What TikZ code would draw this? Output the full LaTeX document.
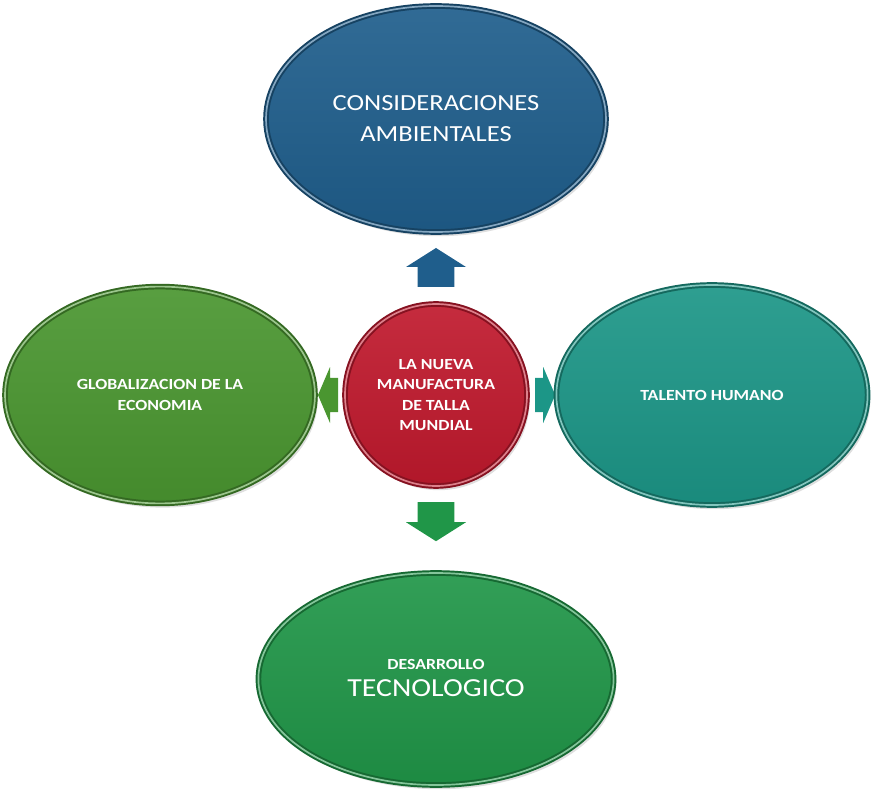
\documentclass[tikz,border=0pt]{standalone}
\usepackage{fontspec}
\setmainfont{Carlito}[FakeStretch=1.15]
\usetikzlibrary{positioning,shapes.geometric,shadows}

\definecolor{azul}{RGB}{31,94,140}
\definecolor{rojo}{RGB}{192,25,45}
\definecolor{verdeA}{RGB}{74,150,48}
\definecolor{verdeB}{RGB}{32,150,72}
\definecolor{turquesa}{RGB}{28,150,135}

\tikzset{
  % block arrows, pointing up, base at the origin
  bloque/.pic={\fill (-0.46,0) -- (-0.46,0.5) -- (-0.75,0.5) -- (0,0.975)
    -- (0.75,0.5) -- (0.46,0.5) -- (0.46,0) -- cycle;},
  bloquito/.pic={\fill (-0.43,0) -- (-0.43,0.2) -- (-0.7,0.2) -- (0,0.5)
    -- (0.7,0.2) -- (0.43,0.2) -- (0.43,0) -- cycle;}
}

\begin{document}
\begin{tikzpicture}[node distance=6.9cm,
  tema/.style={ellipse,draw=#1!70!black,double=#1!55!white,
    double distance=1.2pt,line width=1.4pt,top color=#1!92!white,
    bottom color=#1!92!black,text=white,align=center,
    drop shadow={opacity=0.25,shadow xshift=2pt,shadow yshift=-3pt}},
  chica/.style={font=\bfseries\fontsize{11}{14.6}\selectfont}]

  \useasboundingbox (-10.9,9.875) rectangle (10.875,-9.9);

  % centre
  \node[tema=rojo,circle,minimum size=4.55cm,chica] (nueva)
    {LA NUEVA\\MANUFACTURA\\DE TALLA\\MUNDIAL};

  % where the block arrows start
  \coordinate[above of=nueva,node distance=2.7cm] (baseArriba);
  \coordinate[below of=nueva,node distance=2.68cm] (baseAbajo);
  \coordinate[right of=nueva,node distance=2.48cm] (baseDer);
  \coordinate[left of=nueva,node distance=2.45cm] (baseIzq);

  \pic[azul] at (baseArriba) {bloque};
  \pic[verdeB,rotate=180] at (baseAbajo) {bloque};
  \pic[turquesa,rotate=-90] at (baseDer) {bloquito};
  \pic[verdeA,rotate=90] at (baseIzq) {bloquito};

  % the four themes
  \node[tema=azul,minimum width=8.5cm,minimum height=5.65cm,
    font=\fontsize{16.4}{22}\selectfont] (ambiental) [above of=nueva]
    {CONSIDERACIONES\\AMBIENTALES};
  \node[tema=verdeA,minimum width=7.75cm,minimum height=5.42cm,chica]
    (global) [left of=nueva] {GLOBALIZACION DE LA\\ECONOMIA};
  \node[tema=turquesa,minimum width=7.78cm,minimum height=5.5cm,chica]
    (talento) [right of=nueva] {TALENTO HUMANO};
  \node[tema=verdeB,minimum width=8.88cm,minimum height=5.3cm]
    (tecno) [below of=nueva,node distance=7.1cm]
    {{\bfseries\fontsize{11}{14}\selectfont DESARROLLO}\\[6pt]
     {\fontsize{18.5}{20}\selectfont TECNOLOGICO}\\[-10pt]};
\end{tikzpicture}
\end{document}
